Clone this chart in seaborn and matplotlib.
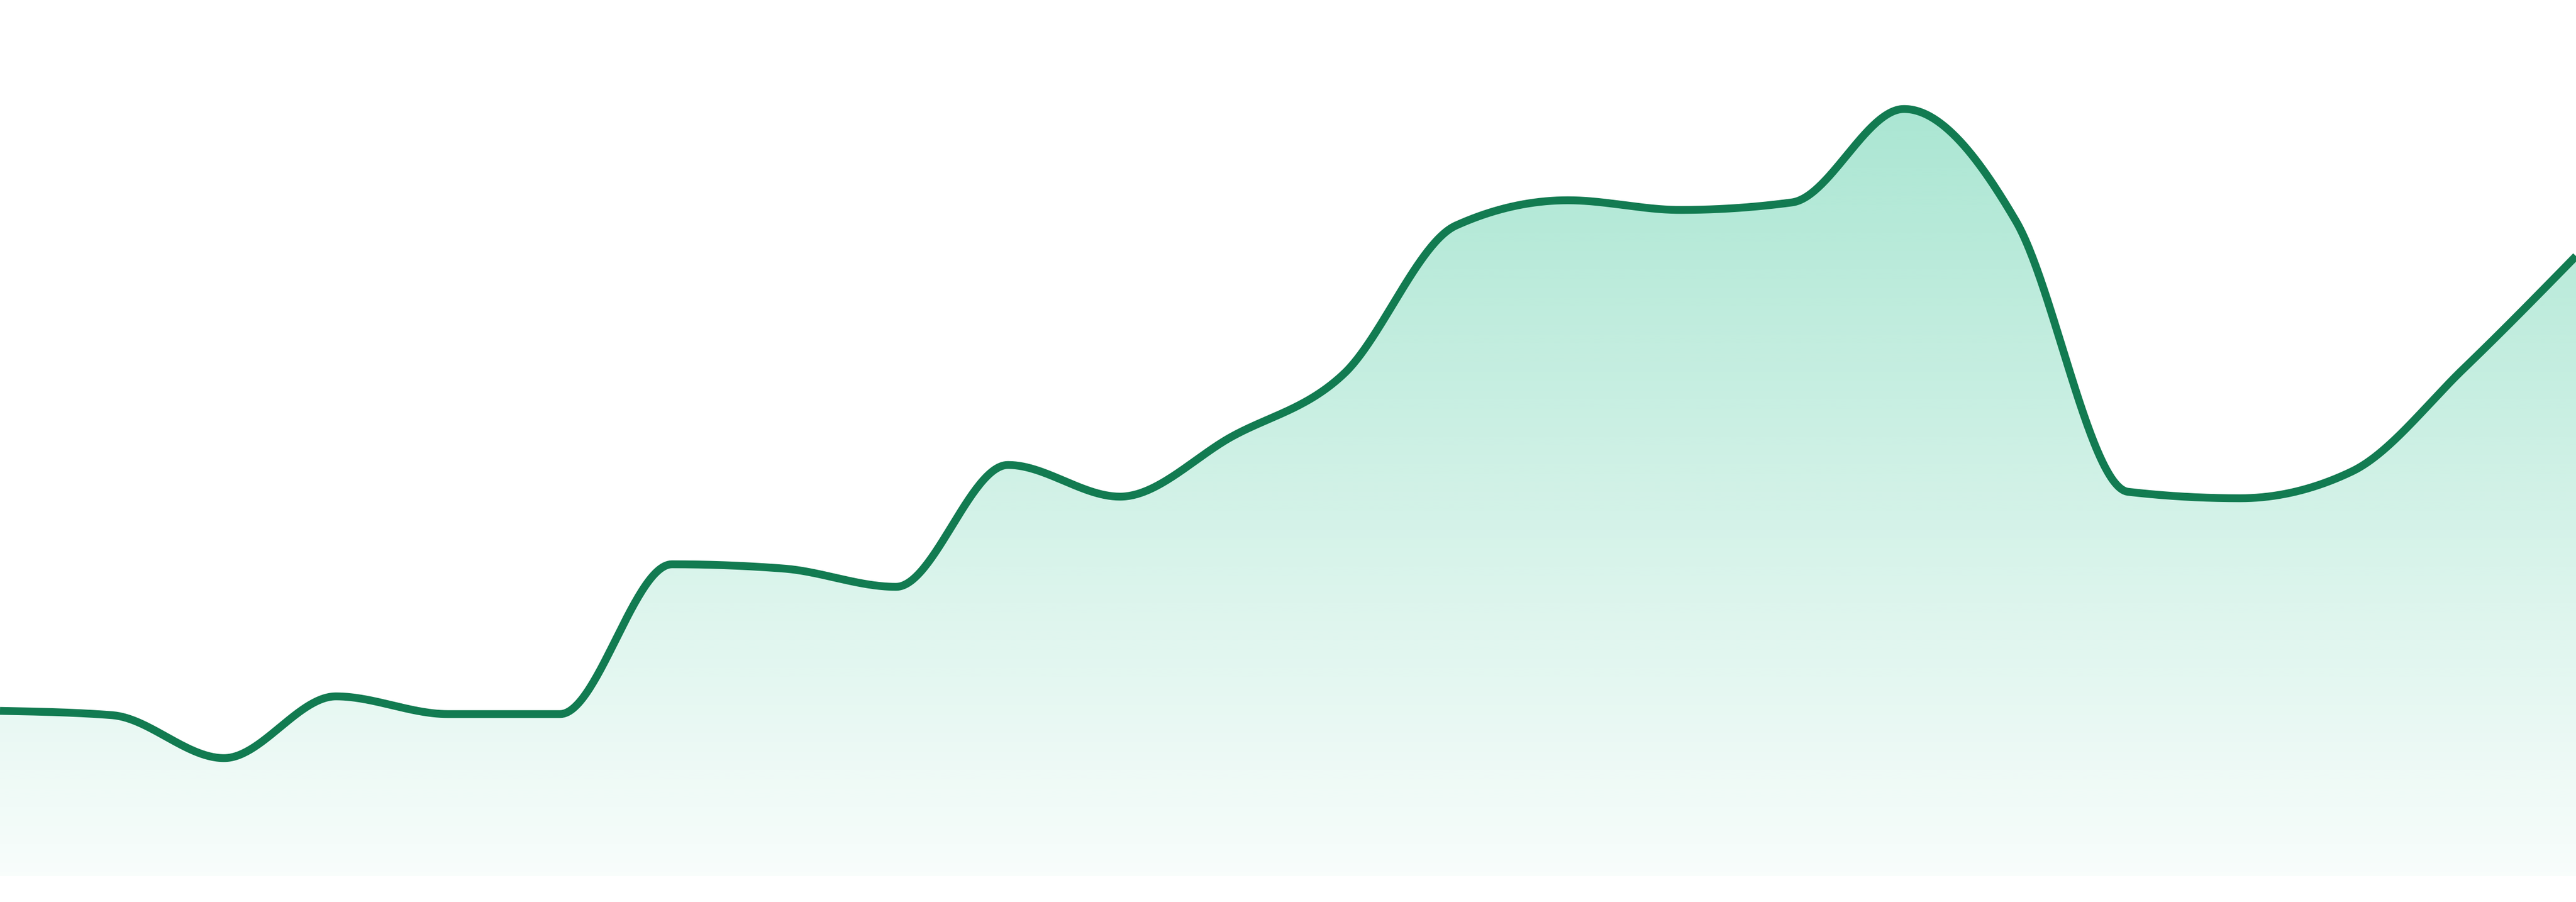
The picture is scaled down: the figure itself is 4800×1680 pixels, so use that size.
import numpy as np
import pandas as pd
import matplotlib
matplotlib.use("Agg")
import matplotlib.pyplot as plt
import seaborn as sns
from matplotlib.colors import to_rgb

# ---- data ----
periods = list(range(24))
values = [308, 300, 220, 335, 302, 302, 581, 573, 539, 766, 707, 819,
          936, 1212, 1259, 1241, 1255, 1429, 1220, 716, 704, 754, 946, 1155]

LINE_COLOR = "#127b51"
FILL_COLOR = "#10b981"
Y_MAX = 1632


def monotone_x(x, y, n=60):
    """d3.curveMonotoneX style smoothing (for drawing only)."""
    x = np.asarray(x, float)
    y = np.asarray(y, float)
    h = np.diff(x)
    s = np.diff(y) / h
    t = np.zeros_like(y)
    for i in range(1, len(y) - 1):
        s0, s1 = s[i - 1], s[i]
        h0, h1 = h[i - 1], h[i]
        p = (s0 * h1 + s1 * h0) / (h0 + h1)
        sg0 = -1 if s0 < 0 else 1
        sg1 = -1 if s1 < 0 else 1
        t[i] = (sg0 + sg1) * min(abs(s0), abs(s1), 0.5 * abs(p))
    t[0] = (3 * s[0] - t[1]) / 2
    t[-1] = (3 * s[-1] - t[-2]) / 2
    xs, ys = [], []
    u = np.linspace(0, 1, n, endpoint=False)
    for i in range(len(x) - 1):
        dx = x[i + 1] - x[i]
        P0 = np.array([x[i], y[i]])
        P1 = np.array([x[i] + dx / 3, y[i] + dx * t[i] / 3])
        P2 = np.array([x[i + 1] - dx / 3, y[i + 1] - dx * t[i + 1] / 3])
        P3 = np.array([x[i + 1], y[i + 1]])
        b = ((1 - u) ** 3)[:, None] * P0 + (3 * (1 - u) ** 2 * u)[:, None] * P1 \
            + (3 * (1 - u) * u ** 2)[:, None] * P2 + (u ** 3)[:, None] * P3
        xs.append(b[:, 0])
        ys.append(b[:, 1])
    xs.append([x[-1]])
    ys.append([y[-1]])
    return np.concatenate(xs), np.concatenate(ys)


sns.set_theme(style="white")
fig = plt.figure(figsize=(48, 16.8), dpi=100)
fig.patch.set_facecolor("white")
ax = fig.add_axes([0, 48 / 1680, 1, 1632 / 1680])
ax.set_facecolor("none")

xs, ys = monotone_x(periods, values)
df = pd.DataFrame({"period": xs, "value": ys})

# gradient fill under the curve
fill = ax.fill_between(df["period"], df["value"], 0, facecolor="none", edgecolor="none")
r, g, b = to_rgb(FILL_COLOR)
rows = 400
alpha = np.linspace(0.40, 0.03, rows)[:, None]  # top -> bottom
grad = np.zeros((rows, 2, 4))
grad[..., 0], grad[..., 1], grad[..., 2] = r, g, b
grad[..., 3] = alpha
img = ax.imshow(grad, extent=[0, 23, 0, Y_MAX], aspect="auto", origin="upper",
                interpolation="bilinear", zorder=1)
clip_path = fill.get_paths()[0]
img.set_clip_path(clip_path, transform=ax.transData)

sns.lineplot(data=df, x="period", y="value", ax=ax, color=LINE_COLOR,
             linewidth=10.5, estimator=None, sort=False, zorder=3,
             solid_capstyle="butt", solid_joinstyle="round")

ax.set_xlim(0, 23)
ax.set_ylim(0, Y_MAX)
ax.set_axis_off()

fig.savefig("out.png", dpi=100, facecolor="white")
